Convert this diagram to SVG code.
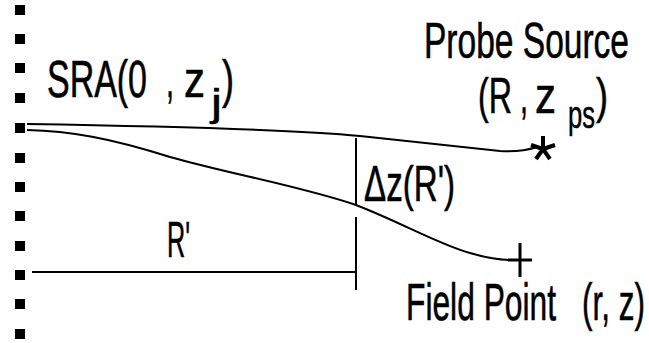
<svg xmlns="http://www.w3.org/2000/svg" width="649" height="343" viewBox="0 0 649 343">
<style>
.t{font-family:"Liberation Sans",Arial,sans-serif;font-size:50px;fill:#000;stroke:#000;stroke-width:0.6}
.b{font-size:52px}
.s{font-family:"Liberation Sans",Arial,sans-serif;font-size:38px;fill:#000;stroke:#000;stroke-width:0.5}
.ln{fill:none;stroke:#000;stroke-width:2}
.sq{fill:#000}
</style>
<rect width="649" height="343" fill="#fff"/>
<g id="border-marks">
<rect class="sq" x="15" y="5" width="10" height="10"/>
<rect class="sq" x="15" y="34" width="10" height="10"/>
<rect class="sq" x="15" y="63" width="10" height="10"/>
<rect class="sq" x="15" y="93" width="10" height="10"/>
<rect class="sq" x="15" y="123" width="10" height="10"/>
<rect class="sq" x="15" y="153" width="10" height="10"/>
<rect class="sq" x="15" y="182" width="10" height="10"/>
<rect class="sq" x="15" y="211" width="10" height="10"/>
<rect class="sq" x="15" y="241" width="10" height="10"/>
<rect class="sq" x="15" y="270" width="10" height="10"/>
<rect class="sq" x="15" y="299" width="10" height="10"/>
<rect class="sq" x="15" y="329" width="10" height="10"/>
</g>
<g id="connectors">
<path class="ln" d="M27,124 C150,126 300,130 360,136 C420,142 470,148 500,151 C515,152 528,150 537,147"/>
<path class="ln" d="M27,130 C70,131 110,138 170,157 C230,174 300,186 356,205 C400,222 440,245 470,253 C490,259 500,260 512,260"/>
<path class="ln" d="M32,272 H356"/>
<path class="ln" d="M356,138 V205 M356,217 V290"/>
</g>
<g id="sra">
<text class="t b" x="47" y="97" textLength="100" lengthAdjust="spacingAndGlyphs">SRA(0</text>
<text class="t b" x="166" y="97" textLength="8" lengthAdjust="spacingAndGlyphs">,</text>
<text class="t b" x="184" y="97" textLength="21" lengthAdjust="spacingAndGlyphs">z</text>
<text class="s" x="211" y="116" textLength="11" lengthAdjust="spacingAndGlyphs">j</text>
<text class="t b" x="222" y="97" textLength="12" lengthAdjust="spacingAndGlyphs">)</text>
</g>
<g id="probe-source">
<text class="t" x="424" y="58" textLength="205" lengthAdjust="spacingAndGlyphs">Probe Source</text>
<text class="t" x="478" y="113" textLength="34" lengthAdjust="spacingAndGlyphs">(R</text>
<text class="t" x="520" y="113" textLength="8" lengthAdjust="spacingAndGlyphs">,</text>
<text class="t" x="535" y="113" textLength="21" lengthAdjust="spacingAndGlyphs">z</text>
<text class="s" x="568" y="128" textLength="27" lengthAdjust="spacingAndGlyphs">ps</text>
<text class="t" x="596" y="113" textLength="12" lengthAdjust="spacingAndGlyphs">)</text>
<path d="M543,149 V136 M543,149 L555,145 M543,149 L531,145 M543,149 L550,159 M543,149 L536,159" fill="none" stroke="#000" stroke-width="4"/>
</g>
<g id="delta">
<text class="t" x="364" y="201" textLength="91" lengthAdjust="spacingAndGlyphs">Δz(R')</text>
</g>
<g id="rprime">
<text class="t" x="167" y="257" textLength="23" lengthAdjust="spacingAndGlyphs">R'</text>
</g>
<g id="field-point">
<path d="M520,243 V277 M508,260 H532" fill="none" stroke="#000" stroke-width="3"/>
<text class="t b" x="406" y="320" textLength="150" lengthAdjust="spacingAndGlyphs">Field Point</text>
<text class="t b" x="582" y="320" textLength="63" lengthAdjust="spacingAndGlyphs">(r, z)</text>
</g>
</svg>
